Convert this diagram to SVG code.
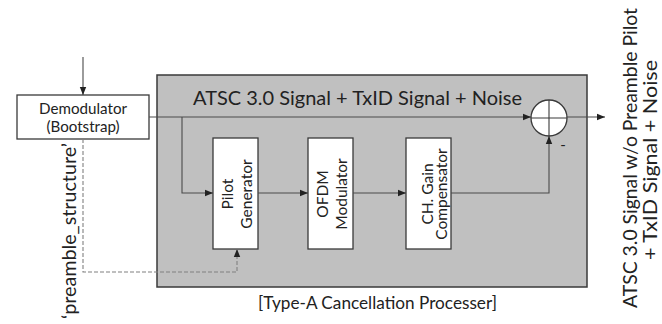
<svg xmlns="http://www.w3.org/2000/svg" width="662" height="324" viewBox="0 0 662 324">
<style>
text{font-family:Lato,"Open Sans","Noto Sans",sans-serif;fill:#222}
.box{fill:#fff;stroke:#3a3a3a;stroke-width:1.3}
.ln{fill:none;stroke:#4a4a4a;stroke-width:1.1}
.dash{fill:none;stroke:#808080;stroke-width:1.1;stroke-dasharray:4 2}
.s13{font-size:15.5px}
.s14{font-size:15px}
</style>
<defs>
<marker id="ah" viewBox="0 0 8 8" refX="8" refY="4" markerWidth="8" markerHeight="8" markerUnits="userSpaceOnUse" orient="auto">
<path d="M0,0.8 L8,4 L0,7.2 Z" fill="#222"/>
</marker>
</defs>
<g id="processor">
<rect x="157" y="75" width="430" height="212" fill="#c0c0c0" stroke="#3a3a3a" stroke-width="1.5"/>
<text x="193" y="105" font-size="19" textLength="329" lengthAdjust="spacingAndGlyphs">ATSC 3.0 Signal + TxID Signal + Noise</text>
<text x="377.5" y="309" font-size="18" text-anchor="middle" textLength="239" lengthAdjust="spacingAndGlyphs">[Type-A Cancellation Processer]</text>
</g>
<g id="demodulator">
<rect class="box" x="17" y="95" width="132" height="44"/>
<text class="s14" x="83" y="114" text-anchor="middle" textLength="88" lengthAdjust="spacingAndGlyphs">Demodulator</text>
<text class="s14" x="83" y="132" text-anchor="middle" textLength="73" lengthAdjust="spacingAndGlyphs">(Bootstrap)</text>
</g>
<g id="pilot">
<rect class="box" x="213" y="138" width="45" height="111"/>
<text class="s13" text-anchor="middle" transform="translate(233,194) rotate(-90)">Pilot</text>
<text class="s13" text-anchor="middle" transform="translate(252,194) rotate(-90)">Generator</text>
</g>
<g id="ofdm">
<rect class="box" x="308" y="138" width="45" height="111"/>
<text class="s13" text-anchor="middle" transform="translate(328,194) rotate(-90)">OFDM</text>
<text class="s13" text-anchor="middle" transform="translate(347,194) rotate(-90)">Modulator</text>
</g>
<g id="gain">
<rect class="box" x="406" y="138" width="45" height="111"/>
<text class="s13" text-anchor="middle" transform="translate(433,194) rotate(-90)">CH. Gain</text>
<text class="s13" text-anchor="middle" transform="translate(447,194) rotate(-90)">Compensator</text>
</g>
<g id="sum">
<circle cx="549" cy="118" r="18" fill="#fff" stroke="#3a3a3a" stroke-width="1.3"/>
<line x1="531" y1="118" x2="567" y2="118" stroke="#3a3a3a" stroke-width="1.1"/>
<line x1="549" y1="100" x2="549" y2="136" stroke="#3a3a3a" stroke-width="1.1"/>
<text x="563" y="150" font-size="15" text-anchor="middle">-</text>
</g>
<g id="labels">
<text font-size="20" text-anchor="middle" transform="translate(76,231) rotate(-90)" textLength="176" lengthAdjust="spacingAndGlyphs">‘preamble_structure’</text>
<text font-size="19" text-anchor="middle" transform="translate(637,158) rotate(-90)" textLength="300" lengthAdjust="spacingAndGlyphs">ATSC 3.0 Signal w/o Preamble Pilot</text>
<text font-size="19" text-anchor="middle" transform="translate(657,160) rotate(-90)" textLength="200" lengthAdjust="spacingAndGlyphs">+ TxID Signal + Noise</text>
</g>
<g id="connectors">
<line class="ln" x1="83" y1="57" x2="83" y2="95" marker-end="url(#ah)"/>
<line class="ln" x1="149" y1="117" x2="531" y2="117" marker-end="url(#ah)"/>
<line class="ln" x1="567" y1="117" x2="605" y2="117" marker-end="url(#ah)"/>
<polyline class="ln" points="182,117 182,193 213,193" marker-end="url(#ah)"/>
<line class="ln" x1="258" y1="193" x2="308" y2="193" marker-end="url(#ah)"/>
<line class="ln" x1="353" y1="193" x2="406" y2="193" marker-end="url(#ah)"/>
<polyline class="ln" points="451,193 549,193 549,136" marker-end="url(#ah)"/>
<polyline class="dash" points="83,139 83,272 237,272 237,249" marker-end="url(#ah)"/>
</g>
</svg>
